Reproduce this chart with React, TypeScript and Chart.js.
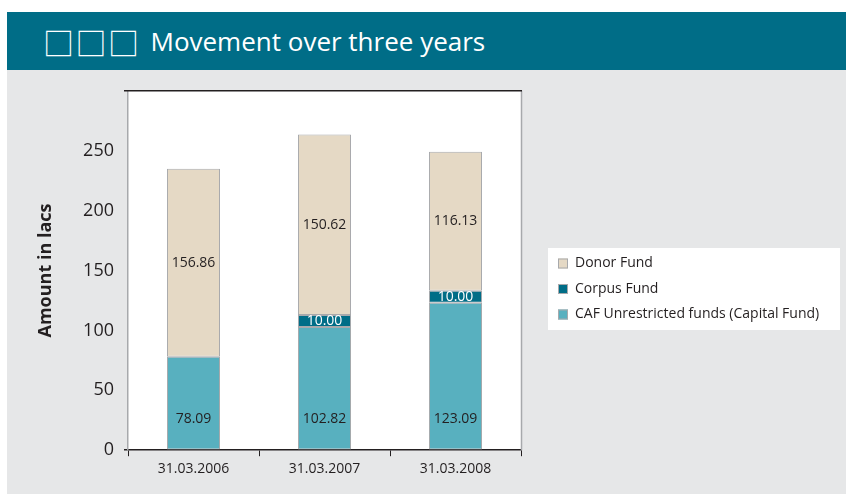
import React, { useEffect, useRef } from 'react';
import { Chart, registerables } from 'chart.js';

Chart.register(...registerables);

const categories = ['31.03.2006', '31.03.2007', '31.03.2008'];
const cafFund = [78.09, 102.82, 123.09];
const corpusFund = [0, 10.0, 10.0];
const donorFund = [156.86, 150.62, 116.13];
const seriesNames = ['CAF Unrestricted funds (Capital Fund)', 'Corpus Fund', 'Donor Fund'];
const yMax = 300;
const yStep = 50;

const FONT = '"Open Sans", "DejaVu Sans", sans-serif';
const TEXT = '#231f20';

const bgPlugin = {
  id: 'bgPlugin',
  beforeDraw(chart: any) {
    const { ctx, chartArea } = chart;
    ctx.save();
    ctx.fillStyle = '#ffffff';
    ctx.fillRect(chartArea.left, chartArea.top, chartArea.right - chartArea.left, chartArea.bottom - chartArea.top);
    ctx.restore();
  },
  afterDraw(chart: any) {
    const { ctx, chartArea } = chart;
    ctx.save();
    ctx.strokeStyle = '#a7a9ac';
    ctx.lineWidth = 1.5;
    ctx.beginPath();
    ctx.moveTo(chartArea.right + 0.5, chartArea.top);
    ctx.lineTo(chartArea.right + 0.5, chartArea.bottom);
    ctx.stroke();
    ctx.strokeStyle = TEXT;
    ctx.beginPath();
    ctx.moveTo(chartArea.left - 4, chartArea.top);
    ctx.lineTo(chartArea.right + 1, chartArea.top);
    ctx.stroke();
    ctx.restore();
  },
};

const labelPlugin = {
  id: 'labelPlugin',
  afterDatasetsDraw(chart: any) {
    const { ctx } = chart;
    ctx.save();
    ctx.font = `14px ${FONT}`;
    ctx.textAlign = 'center';
    ctx.textBaseline = 'middle';
    chart.data.datasets.forEach((ds: any, di: number) => {
      const meta = chart.getDatasetMeta(di);
      meta.data.forEach((bar: any, i: number) => {
        const v = ds.data[i];
        if (!v) return;
        const txt = v.toFixed(2);
        let y;
        if (di === 0) {
          y = bar.base - 30;
          ctx.fillStyle = TEXT;
        } else if (di === 1) {
          y = (bar.y + bar.base) / 2;
          ctx.fillStyle = '#ffffff';
        } else {
          y = (bar.y + bar.base) / 2;
          ctx.fillStyle = TEXT;
        }
        ctx.fillText(txt, bar.x, y);
      });
    });
    ctx.restore();
  },
};

const legendPlugin = {
  id: 'legendPlugin',
  afterDraw(chart: any) {
    const { ctx, chartArea } = chart;
    const items = chart.data.datasets.map((d: any) => ({ label: d.label, color: d.backgroundColor })).reverse();
    const left = chartArea.right + 27;
    const top = 178;
    const width = 292;
    const height = 82;
    ctx.save();
    ctx.fillStyle = '#ffffff';
    ctx.fillRect(left, top, width, height);
    ctx.font = `14px ${FONT}`;
    ctx.textBaseline = 'middle';
    ctx.textAlign = 'left';
    items.forEach((it: any, i: number) => {
      const cy = top + 15.5 + i * 25.5;
      ctx.fillStyle = it.color;
      ctx.fillRect(left + 10, cy - 5, 10, 10);
      ctx.strokeStyle = '#a7a9ac';
      ctx.lineWidth = 1;
      ctx.strokeRect(left + 10.5, cy - 4.5, 9, 9);
      ctx.fillStyle = TEXT;
      ctx.fillText(it.label, left + 27, cy);
    });
    ctx.restore();
  },
};

function ChartView() {
  const ref = useRef<HTMLCanvasElement>(null);
  useEffect(() => {
    if (!ref.current) return;
    const chart = new Chart(ref.current, {
      type: 'bar',
      data: {
        labels: categories,
        datasets: [
          { label: seriesNames[0], data: cafFund, backgroundColor: '#58b0bf' },
          { label: seriesNames[1], data: corpusFund, backgroundColor: '#006d87' },
          { label: seriesNames[2], data: donorFund, backgroundColor: '#e5d9c5' },
        ].map((d) => ({
          ...d,
          borderColor: '#a7a9ac',
          borderWidth: 1,
          borderSkipped: false,
          barPercentage: 0.405,
          categoryPercentage: 1,
        })),
      },
      options: {
        animation: false,
        responsive: false,
        devicePixelRatio: 1,
        layout: { padding: { top: 12, right: 325, bottom: 13, left: 0 } },
        plugins: {
          legend: { display: false },
          tooltip: { enabled: false },
        },
        scales: {
          x: {
            stacked: true,
            border: { color: TEXT, width: 1.5 },
            grid: { offset: true, drawOnChartArea: false, tickLength: 6, color: TEXT },
            ticks: { color: TEXT, font: { family: FONT, size: 14 }, padding: 4 },
          },
          y: {
            stacked: true,
            min: 0,
            max: yMax,
            border: { color: '#a7a9ac', width: 1.5 },
            grid: {
              drawOnChartArea: false,
              tickLength: 4,
              lineWidth: 1.5,
              color: (c: any) => (c.tick && c.tick.value === 0 ? TEXT : 'rgba(0,0,0,0)'),
            },
            ticks: {
              stepSize: yStep,
              color: TEXT,
              padding: 10,
              font: { family: FONT, size: 18 },
              callback: (v: any) => (v === yMax ? '' : String(v)),
            },
            title: {
              display: true,
              text: 'Amount in lacs',
              color: TEXT,
              font: { family: FONT, size: 18, weight: 'bold' },
              padding: { top: 28, bottom: 0 },
            },
            afterFit: (s: any) => {
              s.width = 121;
            },
          },
        },
      },
      plugins: [bgPlugin, labelPlugin, legendPlugin],
    });
    return () => chart.destroy();
  }, []);
  return <canvas ref={ref} width={839} height={424} style={{ display: 'block' }} />;
}

export default function App() {
  return (
    <div style={{ position: 'absolute', left: 0, top: 0, width: 846, height: 494, background: '#ffffff', overflow: 'hidden' }}>
      <div
        style={{
          position: 'absolute',
          left: 7,
          top: 12,
          width: 839,
          height: 58,
          background: '#006d87',
          color: '#ffffff',
          display: 'flex',
          alignItems: 'center',
          fontFamily: '"Open Sans", sans-serif',
          fontSize: 26,
        }}
      >
        <span style={{ marginLeft: 36, fontFamily: '"Noto Sans CJK SC", "DejaVu Sans", sans-serif', fontSize: 31, letterSpacing: 1.5, lineHeight: 1 }}>□□□</span>
        <span style={{ marginLeft: 10 }}>Movement over three years</span>
      </div>
      <div style={{ position: 'absolute', left: 7, top: 70, width: 839, height: 424, background: '#e6e7e8' }}>
        <ChartView />
      </div>
    </div>
  );
}
